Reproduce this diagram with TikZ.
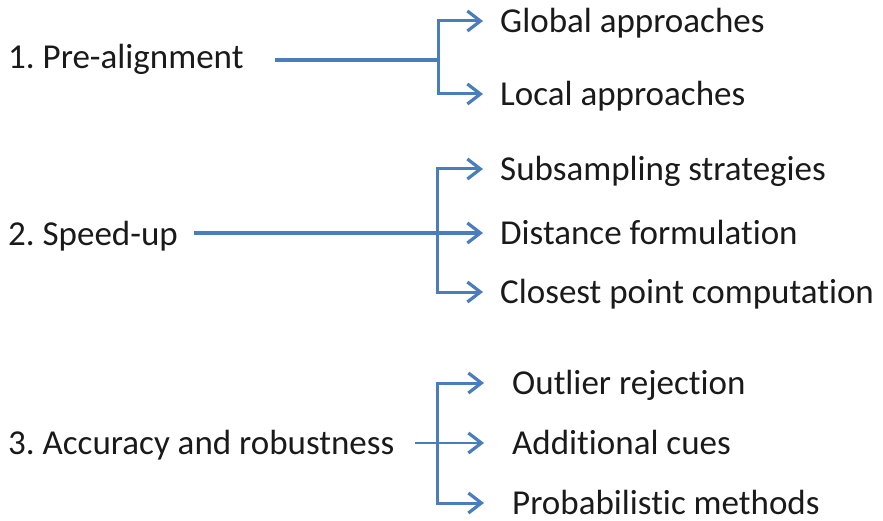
\documentclass[tikz,border=0pt]{standalone}
\usepackage{fontspec}
\setmainfont{Carlito}[Ligatures=NoCommon]
\usetikzlibrary{arrows.meta}
\definecolor{lineblue}{HTML}{4A7EBB}
\definecolor{txt}{HTML}{1A1A1A}
\begin{document}
\frenchspacing
\begin{tikzpicture}[x=1pt,y=-1pt,
  lbl/.style={inner sep=0pt,anchor=west,text=txt,font=\fontsize{35}{42}\selectfont,text height=22.5pt,text depth=0pt},
  lead/.style={draw=lineblue,line width=3.4pt},
  thinlead/.style={draw=lineblue,line width=1.8pt},
  branch/.style={draw=lineblue,line width=3pt},
  tip/.style={-{Straight Barb[length=13pt,width=20pt,line width=3.2pt]}},
  arr/.style={tip,shorten >=17pt},
  arrw/.style={tip,shorten >=28pt}]
\useasboundingbox (0,0) rectangle (883,521);
% row 1
\node[lbl] (p1) at (8,57) {1. Pre-alignment};
\node[lbl] (glob) at (500,21) {Global approaches};
\node[lbl] (loc) at (500,94) {Local approaches};
\coordinate (s1) at (275,60);
\coordinate (j1) at (438,60);
\draw[lead] (s1) -- (j1);
\draw[branch,arr] (j1) |- (glob);
\draw[branch,arr] (j1) |- (loc);
% row 2
\node[lbl] (p2) at (8,234) {2. Speed-up};
\node[lbl] (sub) at (500,169) {Subsampling strategies};
\node[lbl] (dist) at (500,233) {Distance formulation};
\node[lbl] (clos) at (500,292) {Closest point computation};
\coordinate (s2) at (194,233);
\coordinate (j2) at (437,233);
\draw[lead,arr] (s2) -- (dist);
\draw[branch,arr] (j2) |- (sub);
\draw[branch,arr] (j2) |- (clos);
% row 3
\node[lbl] (p3) at (8,443) {3. Accuracy and robustness};
\node[lbl] (out) at (512,383) {Outlier rejection};
\node[lbl] (add) at (512,443) {Additional cues};
\node[lbl] (prob) at (512,503) {Probabilistic methods};
\coordinate (s3) at (415,443);
\coordinate (j3) at (437,443);
\draw[thinlead,arrw] (s3) -- (add);
\draw[branch,arrw] (j3) |- (out);
\draw[branch,arrw] (j3) |- (prob);
\end{tikzpicture}
\end{document}
